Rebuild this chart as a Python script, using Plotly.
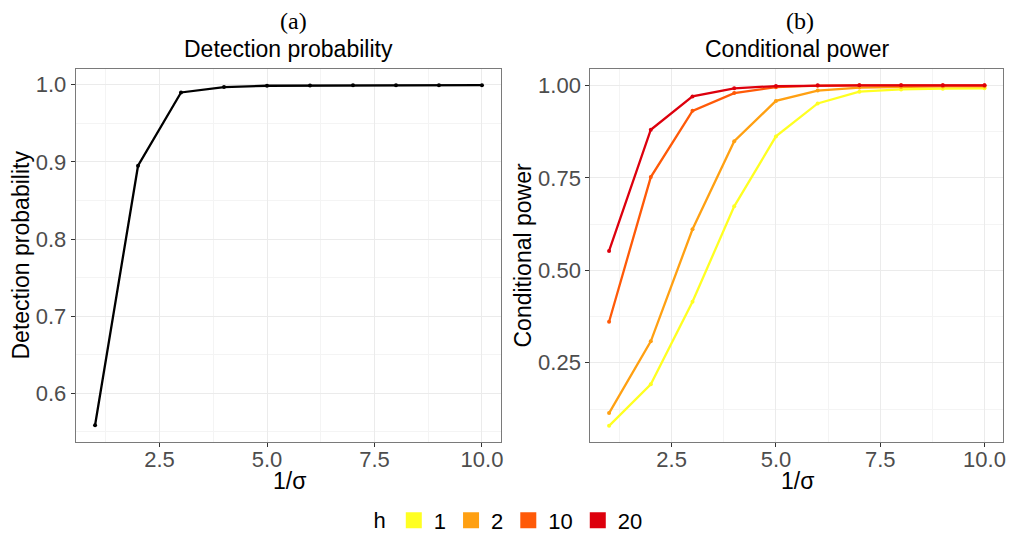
import plotly.graph_objects as go

sigma_inv = [1, 2, 3, 4, 5, 6, 7, 8, 9, 10]
detection = [0.5586, 0.895, 0.990, 0.997, 0.9987, 0.999, 0.9992, 0.9993, 0.9994, 0.9995]

h_levels = ["1", "2", "10", "20"]
power_h1 = [0.0795, 0.192, 0.415, 0.673, 0.862, 0.951, 0.983, 0.989, 0.991, 0.992]
power_h2 = [0.114, 0.308, 0.611, 0.849, 0.958, 0.986, 0.994, 0.996, 0.997, 0.997]
power_h10 = [0.361, 0.752, 0.931, 0.979, 0.995, 0.999, 1.0, 1.0, 1.0, 1.0]
power_h20 = [0.5525, 0.880, 0.970, 0.992, 0.998, 1.0, 1.0, 1.0, 1.0, 1.0]
power = [power_h1, power_h2, power_h10, power_h20]
colors = ["#FFFF22", "#FFA012", "#FF5A08", "#DD000D"]

W, H = 1011, 535
MB = 60              # bottom margin (legend lives in it)
HP = H - MB          # plot-area height in px
SANS = "Liberation Sans, Arial, sans-serif"

fig = go.Figure()
fig.add_trace(go.Scatter(x=sigma_inv, y=detection, mode="lines+markers",
                         line=dict(color="black", width=2.3),
                         marker=dict(color="black", size=4),
                         xaxis="x", yaxis="y", showlegend=False))
for lvl, vals, c in zip(h_levels, power, colors):
    fig.add_trace(go.Scatter(x=sigma_inv, y=vals, mode="lines+markers",
                             line=dict(color=c, width=2.3),
                             marker=dict(color=c, size=4),
                             xaxis="x2", yaxis="y2", showlegend=False))
for lvl, c in zip(h_levels, colors):
    fig.add_trace(go.Scatter(x=[None], y=[None], mode="markers", name=lvl,
                             marker=dict(color=c, size=16, symbol="square"),
                             xaxis="x2", yaxis="y2", showlegend=True))

def px_x(p):
    return p / W

def px_y(p):
    return (HP - p) / HP

top, bottom = 68.7, 442.3
grid = "#EBEBEB"
minor_grid = "#F4F4F4"
border = "#7a7a7a"
TICK = 22
TITLE = 23

common_x = dict(range=[0.55, 10.45], tickvals=[2.5, 5.0, 7.5, 10.0],
                ticktext=["2.5", "5.0", "7.5", "10.0"],
                showgrid=True, gridcolor=grid, gridwidth=1.1,
                minor=dict(tickvals=[1.25, 3.75, 6.25, 8.75], showgrid=True,
                           gridcolor=minor_grid, gridwidth=0.8),
                ticks="outside", ticklen=4, tickcolor="#333333",
                ticklabelstandoff=-7,
                tickfont=dict(family=SANS, size=TICK, color="#4D4D4D"),
                showline=True, linecolor=border, linewidth=1, mirror=True,
                zeroline=False, automargin=False)
common_y = dict(showgrid=True, gridcolor=grid, gridwidth=1.1,
                ticks="outside", ticklen=4, tickcolor="#333333",
                tickfont=dict(family=SANS, size=TICK, color="#4D4D4D"),
                showline=True, linecolor=border, linewidth=1, mirror=True,
                zeroline=False, automargin=False)

fig.update_layout(
    width=W, height=H,
    margin=dict(l=0, r=0, t=0, b=MB, autoexpand=False),
    paper_bgcolor="white", plot_bgcolor="white",
    xaxis=dict(domain=[px_x(75.7), px_x(501.3)], anchor="y", **common_x),
    yaxis=dict(domain=[px_y(bottom), px_y(top)], anchor="x",
               range=[0.5365, 1.0208],
               tickvals=[0.6, 0.7, 0.8, 0.9, 1.0],
               ticktext=["0.6", "0.7", "0.8", "0.9", "1.0"],
               minor=dict(tickvals=[0.55, 0.65, 0.75, 0.85, 0.95], showgrid=True,
                          gridcolor=minor_grid, gridwidth=0.8),
               **common_y),
    xaxis2=dict(domain=[px_x(590.3), px_x(1003.3)], anchor="y2", **common_x),
    yaxis2=dict(domain=[px_y(bottom), px_y(top)], anchor="x2",
                range=[0.035, 1.045],
                tickvals=[0.25, 0.5, 0.75, 1.0],
                ticktext=["0.25", "0.50", "0.75", "1.00"],
                minor=dict(tickvals=[0.125, 0.375, 0.625, 0.875], showgrid=True,
                           gridcolor=minor_grid, gridwidth=0.8),
                **common_y),
    legend=dict(orientation="h", x=0.504, xanchor="center", y=px_y(520.5), yanchor="middle",
                title=dict(text="h", font=dict(family=SANS, size=22, color="black")),
                font=dict(family=SANS, size=22, color="black"),
                itemwidth=30, bgcolor="rgba(0,0,0,0)", tracegroupgap=0),
    showlegend=True,
)

def ann(text, x, y, size, family=SANS, angle=0, color="black"):
    fig.add_annotation(text=text, x=px_x(x), y=px_y(y), xref="paper", yref="paper",
                       showarrow=False, xanchor="center", yanchor="middle",
                       textangle=angle, font=dict(family=family, size=size, color=color))

SERIF = "Liberation Serif, DejaVu Serif, serif"
ann("(a)", 293, 21, 24, family=SERIF)
ann("(b)", 800, 21, 24, family=SERIF)
ann("Detection probability", 288.5, 49, TITLE)
ann("Conditional power", 796.7, 49, TITLE)
ann("Detection probability", 21, 255.5, TITLE, angle=-90)
ann("Conditional power", 523, 255.5, TITLE, angle=-90)
ann("1/σ", 289, 481, TITLE)
ann("1/σ", 797.5, 481, TITLE)

fig.write_html("out.html", config={"displayModeBar": False},
               post_script="document.body.style.margin='0px';document.body.style.overflow='hidden';")
